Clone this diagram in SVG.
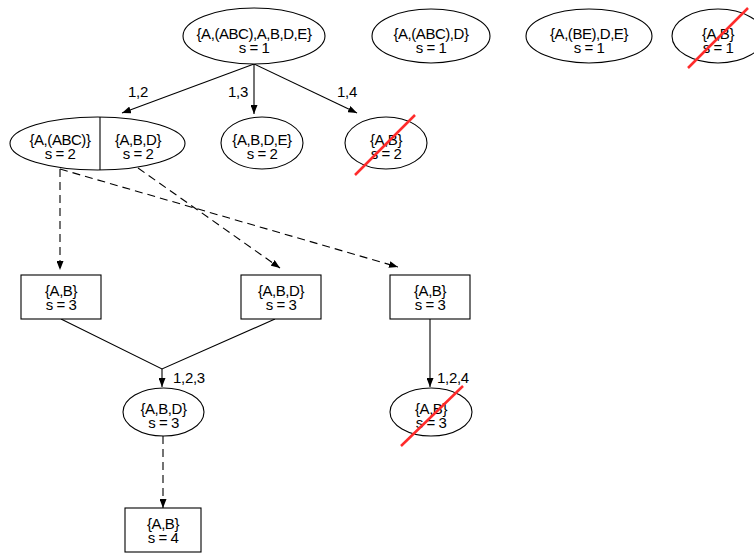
<svg xmlns="http://www.w3.org/2000/svg" width="754" height="554" viewBox="0 0 754 554">
  <style>
    .shape { fill: #fff; stroke: #000; stroke-width: 1.1; }
    .lbl { font-family: "Liberation Sans", Arial, sans-serif; font-size: 15px; fill: #000; text-anchor: middle; letter-spacing: -0.45px; }
    .elbl { font-family: "Liberation Sans", Arial, sans-serif; font-size: 15px; fill: #000; letter-spacing: -0.3px; }
    .edge { fill: none; stroke: #000; stroke-width: 1.1; }
    .dash { stroke-dasharray: 8 5; }
    .cross { stroke: #ff2b2b; stroke-width: 2.5; stroke-linecap: butt; }
  </style>
  <defs>
    <marker id="arrow" markerUnits="userSpaceOnUse" markerWidth="9" markerHeight="7" refX="9" refY="3.5" orient="auto">
      <path d="M0,0 L9,3.5 L0,7 z" fill="#000"/>
    </marker>
  </defs>
  <rect width="754" height="554" fill="#fff"/>

  <!-- edges -->
  <g id="connectors">
    <line class="edge" x1="254" y1="64" x2="122" y2="113" marker-end="url(#arrow)"/>
    <line class="edge" x1="254" y1="64" x2="254" y2="114" marker-end="url(#arrow)"/>
    <line class="edge" x1="254" y1="64" x2="357" y2="113" marker-end="url(#arrow)"/>
    <text class="elbl" x="128" y="97">1,2</text>
    <text class="elbl" x="228" y="97">1,3</text>
    <text class="elbl" x="337" y="97">1,4</text>

    <line class="edge dash" x1="60" y1="169" x2="60" y2="270" marker-end="url(#arrow)"/>
    <line class="edge dash" x1="60" y1="169" x2="398" y2="267" marker-end="url(#arrow)"/>
    <line class="edge dash" x1="138" y1="168" x2="280" y2="268" marker-end="url(#arrow)"/>

    <polyline class="edge" points="61,319 162,369 275,319"/>
    <line class="edge" x1="162" y1="369" x2="162" y2="387" marker-end="url(#arrow)"/>
    <text class="elbl" x="173" y="383">1,2,3</text>

    <line class="edge" x1="430" y1="319" x2="430" y2="387" marker-end="url(#arrow)"/>
    <text class="elbl" x="437" y="383">1,2,4</text>

    <line class="edge dash" x1="163" y1="436" x2="163" y2="508" marker-end="url(#arrow)"/>
  </g>

  <!-- level 1 -->
  <g id="n1">
    <ellipse class="shape" cx="254" cy="36" rx="71" ry="28"/>
    <text class="lbl" x="254" y="39">{A,(ABC),A,B,D,E}</text>
    <text class="lbl" x="254" y="53">s = 1</text>
  </g>
  <g id="n2">
    <ellipse class="shape" cx="431" cy="36" rx="59" ry="27"/>
    <text class="lbl" x="431" y="39">{A,(ABC),D}</text>
    <text class="lbl" x="431" y="53">s = 1</text>
  </g>
  <g id="n3">
    <ellipse class="shape" cx="589" cy="36" rx="63" ry="27"/>
    <text class="lbl" x="589" y="39">{A,(BE),D,E}</text>
    <text class="lbl" x="589" y="53">s = 1</text>
  </g>
  <g id="n4">
    <ellipse class="shape" cx="718" cy="36" rx="46" ry="27"/>
    <text class="lbl" x="718" y="39">{A,B}</text>
    <text class="lbl" x="718" y="53">s = 1</text>
    <line class="cross" x1="688" y1="68" x2="748" y2="8"/>
  </g>

  <!-- level 2 -->
  <g id="n5">
    <ellipse class="shape" cx="97.5" cy="143.5" rx="87.5" ry="26.5"/>
    <line class="edge" x1="100" y1="117" x2="100" y2="170"/>
    <text class="lbl" x="60" y="145">{A,(ABC)}</text>
    <text class="lbl" x="60" y="159">s = 2</text>
    <text class="lbl" x="138" y="145">{A,B,D}</text>
    <text class="lbl" x="138" y="159">s = 2</text>
  </g>
  <g id="n6">
    <ellipse class="shape" cx="262" cy="143" rx="41" ry="26"/>
    <text class="lbl" x="262" y="145">{A,B,D,E}</text>
    <text class="lbl" x="262" y="159">s = 2</text>
  </g>
  <g id="n7">
    <ellipse class="shape" cx="386" cy="143" rx="41" ry="26"/>
    <text class="lbl" x="386" y="145">{A,B}</text>
    <text class="lbl" x="386" y="159">s = 2</text>
    <line class="cross" x1="355" y1="175" x2="415" y2="115"/>
  </g>

  <!-- level 3 -->
  <g id="n8">
    <rect class="shape" x="21" y="275" width="80" height="44"/>
    <text class="lbl" x="61" y="296">{A,B}</text>
    <text class="lbl" x="61" y="310">s = 3</text>
  </g>
  <g id="n9">
    <rect class="shape" x="241" y="275" width="80" height="44"/>
    <text class="lbl" x="281" y="296">{A,B,D}</text>
    <text class="lbl" x="281" y="310">s = 3</text>
  </g>
  <g id="n10">
    <rect class="shape" x="390" y="275" width="80" height="44"/>
    <text class="lbl" x="430" y="296">{A,B}</text>
    <text class="lbl" x="430" y="310">s = 3</text>
  </g>

  <!-- level 4 -->
  <g id="n11">
    <ellipse class="shape" cx="163.5" cy="412" rx="40.5" ry="24"/>
    <text class="lbl" x="163.5" y="414">{A,B,D}</text>
    <text class="lbl" x="163.5" y="428">s = 3</text>
  </g>
  <g id="n12">
    <ellipse class="shape" cx="431" cy="412" rx="41" ry="24"/>
    <text class="lbl" x="431" y="414">{A,B}</text>
    <text class="lbl" x="431" y="428">s = 3</text>
    <line class="cross" x1="401" y1="446" x2="463" y2="386"/>
  </g>

  <!-- level 5 -->
  <g id="n13">
    <rect class="shape" x="125" y="508" width="76" height="44"/>
    <text class="lbl" x="163" y="529">{A,B}</text>
    <text class="lbl" x="163" y="543">s = 4</text>
  </g>
</svg>
